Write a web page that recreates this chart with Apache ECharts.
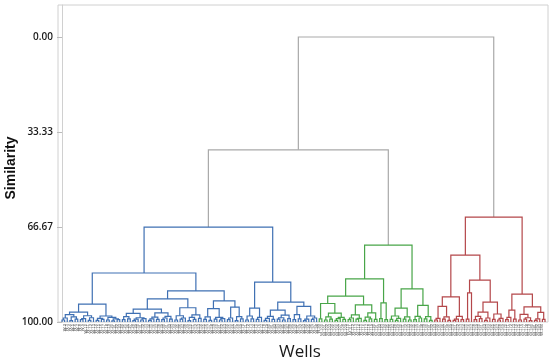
<!DOCTYPE html>
<html><head><meta charset="utf-8">
<script src="https://cdn.jsdelivr.net/npm/echarts@6/dist/echarts.min.js"></script>
<style>html,body{margin:0;padding:0;background:#fff}#c{width:550px;height:364px}</style>
</head><body><div id="c"></div>
<script>
// ---- DATA: dendrogram sub-clusters (Newick-like: (left,right)similarity ; * = well) ----
const blueB1aL = "((((*,*)99.3,*)98.6,((*,*)99.5,(*,*)99.0)98.2)97.4,(((*,*)99.2,*)98.8,((*,*)99.4,*)98.5)97.8)96.5";
const blueB1aR = "(((*,*)99.4,(*,*)99.1)98.7,((*,*)99.3,((*,*)99.6,(*,*)99.2)98.9)98.4)97.9";
const blueB1bLL1 = "(((*,*)99.2,(*,*)98.9)98.1,(((*,*)99.5,*)99.0,((*,*)99.3,*)98.8)98.5)97.0";
const blueB1bLL2 = "((((*,*)99.4,*)98.9,(*,*)99.1)98.3,(((*,*)99.2,*)98.6,(*,*)99.0)98.0)96.8";
const blueB1bLR = "(((*,*)99.3,((*,*)99.0,*)98.6)97.8,(((*,*)99.5,(*,*)99.1)98.4,(*,*)98.7)97.5)95.0";
const blueB1bR1 = "(((*,*)99.1,(*,*)99.4)98.2,((*,*)99.0,((*,*)99.3,*)98.8)98.4)95.3";
const blueB1bR2 = "(((*,*)99.2,*)98.6,((*,*)99.5,(*,*)98.9)98.1)94.8";
const blueB2L = "(((*,*)99.3,(*,*)98.9)97.9,((*,*)99.1,*)98.4)95.1";
const blueB2RL = "((((*,*)99.4,*)98.7,(*,*)99.1)98.0,(((*,*)99.0,(*,*)99.3)98.5,(*,*)98.8)97.6)95.8";
const blueB2RR = "(((*,*)99.2,(*,*)98.9)97.4,(((*,*)99.5,*)99.0,((*,*)99.1,*)98.6)97.9)94.5";
// merge heights inside blue: [B1a, B1bL_L, B1bL, B1bR, B1b, B1, B2R, B2, blue]
const blueMerges = [93.7, 95.5, 91.9, 92.6, 89.1, 82.8, 93.0, 86.0, 66.7];

const greenG1aL = "((*,*)98.9,(((*,*)99.3,(*,*)99.0)98.2,(((*,*)99.4,*)98.8,(*,*)99.1)98.4)96.9)93.5";
const greenG1aR = "((((*,*)99.2,*)98.6,((*,*)99.0,*)98.7)97.5,(((*,*)99.4,(*,*)98.9)98.3,(*,*)99.1)96.8)94.0";
const greenG1b = "((*,*)98.8,(*,*)99.2)93.3";
const greenG2L = "(((*,*)99.1,((*,*)99.4,*)98.7)97.9,((*,*)99.0,(*,*)99.3)98.2)95.1";
const greenG2R = "(((*,*)99.2,(*,*)98.6)98.0,((*,*)98.9,(*,*)99.4)98.1)94.2";
// merge heights inside green: [G1a, G1, G2, green]
const greenMerges = [90.9, 84.9, 88.4, 73.0];

const redR1aL = "(((*,*)99.3,*)98.7,((*,*)99.0,(*,*)99.4)98.2)94.5";
const redR1aR = "(((*,*)99.4,*)99.0,(*,*)99.2)98.0";
const redR1bL = "((*,*)99.0,*)89.8";
const redR1bRL = "(((*,*)99.2,(*,*)98.8)98.0,((*,*)99.4,*)98.6)96.5";
const redR1bRR = "((*,*)99.1,((*,*)99.3,*)98.7)97.2";
const redR2L = "(((*,*)99.2,*)98.4,(*,*)99.0)95.8";
const redR2R = "(((*,*)99.3,((*,*)99.0,(*,*)99.5)98.5)97.3,(((*,*)99.4,*)98.9,(*,*)99.1)96.6)94.7";
// merge heights inside red: [R1a, R1bR, R1b, R1, R2, red]
const redMerges = [91.2, 93.0, 85.3, 76.5, 90.2, 63.2];

// top-level joins: blue+green, then with red
const topMerges = [39.6, 0.0];
const yTicks = [0, 33.33, 66.67, 100];

// ---- build trees ----
const J = (a, b, h) => "(" + a + "," + b + ")" + h;
const bm = blueMerges, gm = greenMerges, rm = redMerges;
const blueStr = J(
  J(J(blueB1aL, blueB1aR, bm[0]),
    J(J(J(blueB1bLL1, blueB1bLL2, bm[1]), blueB1bLR, bm[2]), J(blueB1bR1, blueB1bR2, bm[3]), bm[4]), bm[5]),
  J(blueB2L, J(blueB2RL, blueB2RR, bm[6]), bm[7]), bm[8]);
const greenStr = J(J(J(greenG1aL, greenG1aR, gm[0]), greenG1b, gm[1]), J(greenG2L, greenG2R, gm[2]), gm[3]);
const redStr = J(J(J(redR1aL, redR1aR, rm[0]), J(redR1bL, J(redR1bRL, redR1bRR, rm[1]), rm[2]), rm[3]),
  J(redR2L, redR2R, rm[4]), rm[5]);

function parseTree(s) {
  s = s.replace(/\s+/g, '');
  let i = 0;
  function node() {
    if (s[i] === '(') {
      i++; const l = node(); i++; const r = node(); i++;
      const j = i; while (i < s.length && /[0-9.]/.test(s[i])) i++;
      return { l, r, h: parseFloat(s.slice(j, i)) };
    }
    i++; return { leaf: true, h: 100 };
  }
  return node();
}
let leafCount = 0;
function layout(n, c) {
  n.c = c;
  if (n.leaf) { n.x = leafCount++; return; }
  layout(n.l, c); layout(n.r, c); n.x = (n.l.x + n.r.x) / 2;
}
const trees = [blueStr, greenStr, redStr].map(parseTree);
trees.forEach((t, k) => layout(t, k));
const bg = { l: trees[0], r: trees[1], h: topMerges[0], c: 3 }; bg.x = (bg.l.x + bg.r.x) / 2;
const root = { l: bg, r: trees[2], h: topMerges[1], c: 3 }; root.x = (root.l.x + root.r.x) / 2;
const segs = [];
(function collect(n) { if (n.leaf) return; segs.push([n.l.x, n.r.x, n.l.h, n.r.h, n.h, n.c]); collect(n.l); collect(n.r); })(root);
const leafIdx = []; for (let k = 0; k < leafCount; k++) leafIdx.push(k);
const leafLabels = leafIdx.map(k => 'W-' + (k + 1));

const colors = ['#3f70b3', '#48a548', '#b4474a', '#a9a9a9'];
const chart = echarts.init(document.getElementById('c'), null, { renderer: 'canvas' });
chart.setOption({
  animation: false,
  grid: { left: 58, top: 5, width: 490, height: 317, show: true, borderColor: '#d0d0d0', borderWidth: 1 },
  xAxis: {
    type: 'value', min: -1.524, max: 185.14,
    axisLine: { show: false }, axisTick: { show: false }, splitLine: { show: false },
    axisLabel: { customValues: leafIdx, formatter: v => leafLabels[Math.round(v)] || '', rotate: 90,
      fontSize: 4, color: '#555', margin: 2, fontFamily: 'Liberation Sans' }
  },
  yAxis: {
    type: 'value', inverse: true, min: -11.23, max: 100,
    splitLine: { show: false },
    axisLine: { show: true, lineStyle: { color: '#d0d0d0' } },
    axisTick: { show: true, customValues: yTicks, length: 5, lineStyle: { color: '#bbbbbb' } },
    axisLabel: { customValues: yTicks, formatter: v => Number(v).toFixed(2), fontSize: 10,
      color: '#1a1a1a', margin: 5, fontFamily: 'Open Sans', fontWeight: 600 }
  },
  graphic: [
    { type: 'text', x: 11, y: 168, rotation: Math.PI / 2,
      style: { text: 'Similarity', font: 'bold 14px "Liberation Sans", Arial', fill: '#111', textAlign: 'center', textVerticalAlign: 'middle' } },
    { type: 'text', x: 300, y: 352,
      style: { text: 'Wells', font: '17px "Open Sans"', fill: '#1a1a1a', textAlign: 'center', textVerticalAlign: 'middle' } }
  ],
  series: [{
    type: 'custom', silent: true, clip: false,
    encode: { x: [0, 1], y: [2, 3, 4] },
    data: segs,
    renderItem: (params, api) => {
      const xl = api.value(0), xr = api.value(1), hl = api.value(2), hr = api.value(3), h = api.value(4), c = api.value(5);
      const pts = [api.coord([xl, hl]), api.coord([xl, h]), api.coord([xr, h]), api.coord([xr, hr])];
      return { type: 'polyline', shape: { points: pts }, style: { stroke: colors[c], lineWidth: 1.2, fill: null } };
    }
  }]
});
</script></body></html>
